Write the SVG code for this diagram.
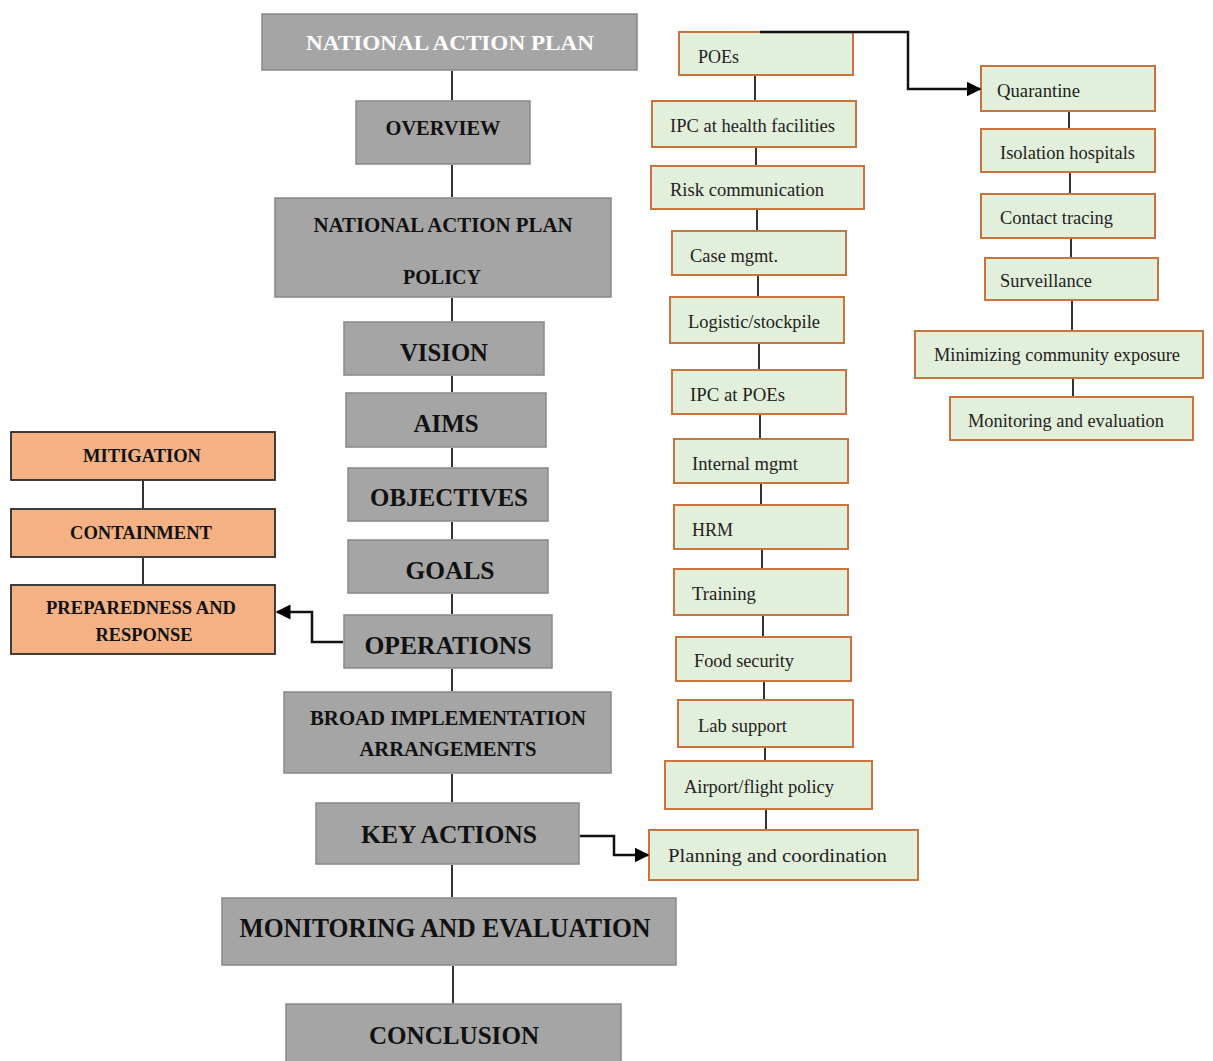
<svg xmlns="http://www.w3.org/2000/svg" width="1213" height="1061" viewBox="0 0 1213 1061">
<defs>
<style>
.g{fill:#a5a5a5;stroke:#888;stroke-width:1.5}
.o{fill:#f4b183;stroke:#2b2b2b;stroke-width:1.8}
.e{fill:#e2efda;stroke:#c8743c;stroke-width:2}
.tg{font-family:"Liberation Serif",serif;font-weight:bold;fill:#111;text-anchor:middle}
.tw{font-family:"Liberation Serif",serif;font-weight:bold;fill:#fff;text-anchor:middle}
.to{font-family:"Liberation Serif",serif;font-weight:bold;fill:#111;text-anchor:middle;font-size:18px}
.te{font-family:"Liberation Serif",serif;fill:#222;font-size:18px}
.c{stroke:#333;stroke-width:2;fill:none}
.a{stroke:#111;stroke-width:2.5;fill:none}
</style>
<marker id="ah" viewBox="0 0 10 10" refX="9" refY="5" markerWidth="6" markerHeight="6" orient="auto-start-reverse" markerUnits="strokeWidth">
<path d="M0,0 L10,5 L0,10 z" fill="#000"/>
</marker>
</defs>
<rect width="1213" height="1061" fill="#fff"/>
<g id="n-nap"><rect class="g" x="262" y="14" width="375" height="56"/><text class="tw" x="450" y="50" font-size="22" textLength="288" lengthAdjust="spacingAndGlyphs">NATIONAL ACTION PLAN</text></g>
<g id="n-overview"><rect class="g" x="356" y="101" width="174" height="63"/><text class="tg" x="443" y="135" font-size="20" textLength="115" lengthAdjust="spacingAndGlyphs">OVERVIEW</text></g>
<g id="n-policy"><rect class="g" x="275" y="198" width="336" height="99"/><text class="tg" x="443" y="232" font-size="20" textLength="259" lengthAdjust="spacingAndGlyphs">NATIONAL ACTION PLAN</text><text class="tg" x="442" y="284" font-size="20" textLength="78" lengthAdjust="spacingAndGlyphs">POLICY</text></g>
<g id="n-vision"><rect class="g" x="344" y="322" width="200" height="53"/><text class="tg" x="444" y="361" font-size="26" textLength="88" lengthAdjust="spacingAndGlyphs">VISION</text></g>
<g id="n-aims"><rect class="g" x="346" y="393" width="200" height="54"/><text class="tg" x="446" y="432" font-size="26" textLength="65" lengthAdjust="spacingAndGlyphs">AIMS</text></g>
<g id="n-objectives"><rect class="g" x="348" y="468" width="200" height="53"/><text class="tg" x="449" y="506" font-size="26" textLength="158" lengthAdjust="spacingAndGlyphs">OBJECTIVES</text></g>
<g id="n-goals"><rect class="g" x="348" y="540" width="200" height="53"/><text class="tg" x="450" y="579" font-size="26" textLength="89" lengthAdjust="spacingAndGlyphs">GOALS</text></g>
<g id="n-operations"><rect class="g" x="344" y="615" width="208" height="53"/><text class="tg" x="448" y="654" font-size="26" textLength="167" lengthAdjust="spacingAndGlyphs">OPERATIONS</text></g>
<g id="n-broad"><rect class="g" x="284" y="692" width="327" height="81"/><text class="tg" x="448" y="725" font-size="21" textLength="276" lengthAdjust="spacingAndGlyphs">BROAD IMPLEMENTATION</text><text class="tg" x="448" y="756" font-size="21" textLength="177" lengthAdjust="spacingAndGlyphs">ARRANGEMENTS</text></g>
<g id="n-key"><rect class="g" x="316" y="803" width="263" height="61"/><text class="tg" x="449" y="843" font-size="26" textLength="176" lengthAdjust="spacingAndGlyphs">KEY ACTIONS</text></g>
<g id="n-me"><rect class="g" x="222" y="898" width="454" height="67"/><text class="tg" x="445" y="937" font-size="27" textLength="411" lengthAdjust="spacingAndGlyphs">MONITORING AND EVALUATION</text></g>
<g id="n-conclusion"><rect class="g" x="286" y="1004" width="335" height="62"/><text class="tg" x="454" y="1044" font-size="26" textLength="170" lengthAdjust="spacingAndGlyphs">CONCLUSION</text></g>
<g id="n-mitigation"><rect class="o" x="11" y="432" width="264" height="48"/><text class="to" x="142" y="462" textLength="118" lengthAdjust="spacingAndGlyphs">MITIGATION</text></g>
<g id="n-containment"><rect class="o" x="11" y="509" width="264" height="48"/><text class="to" x="141" y="539" textLength="142" lengthAdjust="spacingAndGlyphs">CONTAINMENT</text></g>
<g id="n-preparedness"><rect class="o" x="11" y="585" width="264" height="69"/><text class="to" x="141" y="614" textLength="190" lengthAdjust="spacingAndGlyphs">PREPAREDNESS AND</text><text class="to" x="144" y="641" textLength="97" lengthAdjust="spacingAndGlyphs">RESPONSE</text></g>
<g id="n-poes"><rect class="e" x="679" y="32" width="174" height="43"/><text class="te" x="698" y="63">POEs</text></g>
<g id="n-ipchf"><rect class="e" x="652" y="101" width="204" height="46"/><text class="te" x="670" y="132" textLength="165" lengthAdjust="spacingAndGlyphs">IPC at health facilities</text></g>
<g id="n-risk"><rect class="e" x="651" y="166" width="213" height="43"/><text class="te" x="670" y="196" textLength="154" lengthAdjust="spacingAndGlyphs">Risk communication</text></g>
<g id="n-case"><rect class="e" x="672" y="231" width="174" height="44"/><text class="te" x="690" y="262" textLength="88" lengthAdjust="spacingAndGlyphs">Case mgmt.</text></g>
<g id="n-logistic"><rect class="e" x="670" y="297" width="174" height="46"/><text class="te" x="688" y="328" textLength="132" lengthAdjust="spacingAndGlyphs">Logistic/stockpile</text></g>
<g id="n-ipcpoe"><rect class="e" x="672" y="370" width="174" height="44"/><text class="te" x="690" y="401" textLength="95" lengthAdjust="spacingAndGlyphs">IPC at POEs</text></g>
<g id="n-internal"><rect class="e" x="674" y="439" width="174" height="44"/><text class="te" x="692" y="470" textLength="106" lengthAdjust="spacingAndGlyphs">Internal mgmt</text></g>
<g id="n-hrm"><rect class="e" x="674" y="505" width="174" height="44"/><text class="te" x="692" y="536">HRM</text></g>
<g id="n-training"><rect class="e" x="674" y="569" width="174" height="46"/><text class="te" x="692" y="600" textLength="64" lengthAdjust="spacingAndGlyphs">Training</text></g>
<g id="n-food"><rect class="e" x="676" y="637" width="175" height="44"/><text class="te" x="694" y="667" textLength="100" lengthAdjust="spacingAndGlyphs">Food security</text></g>
<g id="n-lab"><rect class="e" x="678" y="700" width="175" height="47"/><text class="te" x="698" y="732" textLength="89" lengthAdjust="spacingAndGlyphs">Lab support</text></g>
<g id="n-airport"><rect class="e" x="665" y="761" width="207" height="48"/><text class="te" x="684" y="793" textLength="150" lengthAdjust="spacingAndGlyphs">Airport/flight policy</text></g>
<g id="n-planning"><rect class="e" x="649" y="830" width="269" height="50"/><text class="te" x="668" y="862" font-size="20" textLength="219" lengthAdjust="spacingAndGlyphs">Planning and coordination</text></g>
<g id="n-quarantine"><rect class="e" x="981" y="66" width="174" height="45"/><text class="te" x="997" y="97" textLength="83" lengthAdjust="spacingAndGlyphs">Quarantine</text></g>
<g id="n-isolation"><rect class="e" x="981" y="129" width="174" height="43"/><text class="te" x="1000" y="159" textLength="135" lengthAdjust="spacingAndGlyphs">Isolation hospitals</text></g>
<g id="n-contact"><rect class="e" x="981" y="194" width="174" height="44"/><text class="te" x="1000" y="224" textLength="113" lengthAdjust="spacingAndGlyphs">Contact tracing</text></g>
<g id="n-surveillance"><rect class="e" x="985" y="258" width="173" height="42"/><text class="te" x="1000" y="287" textLength="92" lengthAdjust="spacingAndGlyphs">Surveillance</text></g>
<g id="n-minimizing"><rect class="e" x="915" y="331" width="288" height="47"/><text class="te" x="934" y="361" textLength="246" lengthAdjust="spacingAndGlyphs">Minimizing community exposure</text></g>
<g id="n-monitoring"><rect class="e" x="950" y="397" width="243" height="43"/><text class="te" x="968" y="427" textLength="196" lengthAdjust="spacingAndGlyphs">Monitoring and evaluation</text></g>
<g id="connectors">
<path class="c" d="M452,71 V100 M452,165 V197 M452,298 V321 M452,376 V392 M452,448 V467 M452,522 V539 M452,594 V614 M452,669 V691 M452,774 V802 M452,865 V897 M453,966 V1003"/>
<path class="c" d="M143,481 V508 M143,558 V584"/>
<path class="a" d="M343,642 H312 V612 H277" marker-end="url(#ah)"/>
<path class="a" d="M580,836 H614 V855 H648" marker-end="url(#ah)"/>
<path class="a" d="M760,32 H908 V89 H980" marker-end="url(#ah)"/>
<path class="c" d="M755,76 V100 M756,148 V165 M757,210 V230 M758,276 V296 M759,344 V369 M760,415 V438 M761,484 V504 M762,550 V568 M763,616 V636 M764,682 V699 M765,748 V760 M766,810 V829"/>
<path class="c" d="M1069,112 V128 M1070,173 V193 M1071,239 V257 M1072,301 V330 M1073,379 V396"/>
</g>
</svg>
